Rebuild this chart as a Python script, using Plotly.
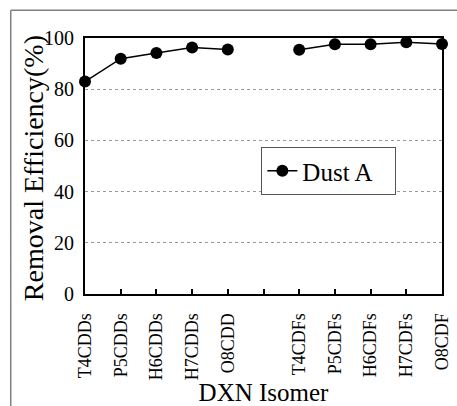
import plotly.graph_objects as go

categories = ["T4CDDs", "P5CDDs", "H6CDDs", "H7CDDs", "O8CDD", "",
              "T4CDFs", "P5CDFs", "H6CDFs", "H7CDFs", "O8CDF"]
dust_a = [83.0, 91.9, 94.1, 96.3, 95.5, None, 95.4, 97.6, 97.6, 98.3, 97.7]
y_ticks = [0, 20, 40, 60, 80, 100]

xpos = list(range(len(categories)))
FONT = "Liberation Serif"

fig = go.Figure()
fig.add_trace(go.Scatter(
    x=xpos, y=dust_a, name="Dust A", mode="lines+markers",
    line=dict(color="black", width=1.5),
    marker=dict(color="black", size=12, symbol="circle"),
    connectgaps=False, cliponaxis=False,
))

frame = dict(color="#808080", width=1.5)
fig.update_layout(
    width=457, height=406,
    margin=dict(l=84.5, r=15, t=37.7, b=111.5, autoexpand=False),
    paper_bgcolor="white", plot_bgcolor="white",
    font=dict(family=FONT, color="black"),
    showlegend=True,
    legend=dict(
        x=0.494, y=0.574, xanchor="left", yanchor="top",
        bgcolor="white", bordercolor="#555555", borderwidth=1,
        font=dict(size=25, family=FONT, color="black"),
        orientation="h", entrywidth=88,
    ),
    xaxis=dict(
        range=[0, 10], tickvals=xpos, ticktext=categories,
        tickangle=-90, tickfont=dict(size=18, family=FONT),
        ticks="inside", ticklen=5, tickwidth=1.5, tickcolor="black",
        ticklabelstandoff=10, automargin=False,
        showline=True, linecolor="black", linewidth=2, mirror=True,
        showgrid=False, zeroline=False,
        title=dict(text="DXN Isomer", font=dict(size=25, family=FONT), standoff=8),
    ),
    yaxis=dict(
        range=[0, 100], tickvals=y_ticks,
        tickfont=dict(size=20, family=FONT), ticks="",
        ticklabelstandoff=5, automargin=False,
        showline=True, linecolor="black", linewidth=2, mirror=True,
        showgrid=True, gridcolor="#999999", gridwidth=1, griddash="dot",
        zeroline=False,
    ),
    annotations=[dict(
        text="Removal Efficiency(%)", xref="paper", yref="paper",
        x=-0.144, y=0.49, xanchor="center", yanchor="middle",
        textangle=-90, showarrow=False,
        font=dict(size=28, family=FONT, color="black"),
    )],
    shapes=[
        dict(type="line", xref="paper", yref="paper",
             x0=-0.208, x1=-0.208, y0=-0.6, y1=1.108, line=frame, layer="below"),
        dict(type="line", xref="paper", yref="paper",
             x0=-0.208, x1=1.5, y0=1.108, y1=1.108, line=frame, layer="below"),
    ],
)

fig.write_html("out.html")
